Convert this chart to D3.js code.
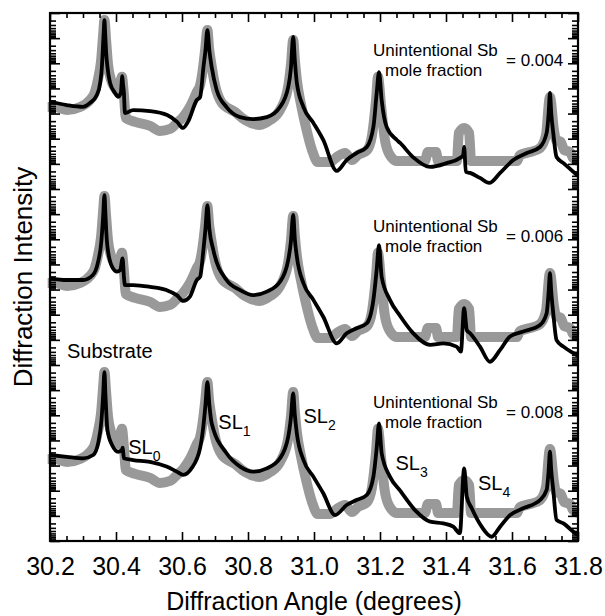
<!DOCTYPE html>
<html><head><meta charset="utf-8">
<script src="https://cdn.jsdelivr.net/npm/d3@7"></script>
<style>body{margin:0;background:#fff} text{font-family:Arial,"Liberation Sans",sans-serif;fill:#000}</style>
</head><body><svg id="c" width="605" height="616"></svg>
<script>
// ---- data (angle in degrees, log10 intensity in decades relative to each panel) ----
const xTickLabels = [30.2, 30.4, 30.6, 30.8, 31.0, 31.2, 31.4, 31.6, 31.8];
const panelOffsets = [14, 7, 0];           // decades, top -> bottom
const sbFractions = ["0.004", "0.006", "0.008"];
const peakLabels = [
  {name:"SL", sub:"0", x:30.437, y:3.46},
  {name:"SL", sub:"1", x:30.710, y:4.45},
  {name:"SL", sub:"2", x:30.968, y:4.68},
  {name:"SL", sub:"3", x:31.247, y:2.81},
  {name:"SL", sub:"4", x:31.497, y:2.03}
];
const measured = [
 [30.193,3.26],[30.215,3.26],[30.252,3.14],[30.291,3.26],[30.321,3.54],[30.336,3.86],[30.345,4.34],
 [30.355,5.13],[30.361,6.13],[30.365,6.72],[30.370,5.93],[30.376,4.93],[30.385,4.34],[30.397,4.02],
 [30.406,3.86],[30.412,4.14],[30.418,4.46],[30.424,3.74],[30.430,2.82],[30.458,2.67],[30.503,2.51],
 [30.533,2.31],[30.564,2.39],[30.585,2.63],[30.603,2.86],[30.624,3.26],[30.645,3.86],[30.655,4.14],
 [30.664,4.85],[30.670,5.53],[30.677,6.32],[30.682,5.61],[30.688,5.05],[30.700,4.14],[30.721,3.42],
 [30.761,3.06],[30.791,2.74],[30.836,2.55],[30.867,2.74],[30.897,3.14],[30.921,4.02],[30.930,4.93],
 [30.937,5.93],[30.942,5.13],[30.948,4.34],[30.961,3.34],[30.976,2.43],[30.994,1.55],[31.012,1.07],
 [31.048,1.07],[31.073,1.31],[31.094,1.43],[31.115,1.15],[31.133,1.35],[31.161,1.55],[31.176,2.15],
 [31.188,3.54],[31.194,4.46],[31.203,3.34],[31.215,1.95],[31.230,1.35],[31.252,1.11],[31.336,1.11],
 [31.345,1.47],[31.370,1.47],[31.376,1.11],[31.433,1.11],[31.439,2.23],[31.455,2.43],[31.470,2.23],
 [31.476,1.11],[31.615,1.11],[31.624,1.35],[31.655,1.47],[31.685,1.63],[31.703,2.15],[31.715,3.66],
 [31.727,2.35],[31.733,1.95],[31.748,1.87],[31.758,1.55],[31.776,1.47],[31.785,1.23],[31.800,1.11]
];
const sim004 = [
 [30.200,3.47],[30.251,3.34],[30.300,3.27],[30.321,3.42],[30.342,3.74],[30.352,4.22],[30.357,4.81],
 [30.360,5.53],[30.363,6.32],[30.365,6.72],[30.367,6.24],[30.370,5.45],[30.374,4.86],[30.382,4.22],
 [30.397,3.82],[30.407,3.67],[30.415,3.85],[30.419,4.49],[30.421,4.20],[30.424,3.82],[30.427,3.02],
 [30.452,3.14],[30.503,3.10],[30.555,2.94],[30.585,2.67],[30.603,2.43],[30.618,2.67],[30.645,3.54],
 [30.655,3.66],[30.665,4.85],[30.671,5.50],[30.677,6.32],[30.683,5.50],[30.690,4.85],[30.705,3.94],
 [30.735,3.26],[30.776,2.86],[30.815,2.78],[30.857,2.86],[30.897,3.26],[30.922,4.06],[30.930,4.80],
 [30.937,6.05],[30.942,5.10],[30.948,4.22],[30.968,3.26],[30.998,2.63],[31.028,1.95],[31.069,0.72],
 [31.099,1.15],[31.129,1.43],[31.160,1.67],[31.180,2.47],[31.190,3.82],[31.197,4.65],[31.205,3.54],
 [31.220,2.47],[31.251,1.95],[31.261,1.83],[31.300,1.27],[31.352,0.88],[31.402,1.03],[31.442,1.23],
 [31.452,1.35],[31.455,1.67],[31.460,0.68],[31.473,0.64],[31.503,0.44],[31.531,0.24],[31.564,0.64],
 [31.604,1.15],[31.645,1.43],[31.685,1.67],[31.705,2.23],[31.711,3.00],[31.715,3.82],[31.719,3.00],
 [31.725,2.23],[31.735,1.27],[31.756,1.03],[31.786,0.68],[31.800,0.52]
];
const sim006 = [
 [30.200,3.45],[30.251,3.38],[30.300,3.38],[30.330,3.58],[30.345,4.06],[30.356,4.97],[30.361,5.90],
 [30.365,6.76],[30.368,6.00],[30.371,5.20],[30.374,4.71],[30.388,3.91],[30.403,3.71],[30.413,3.78],
 [30.420,4.24],[30.424,3.51],[30.427,3.18],[30.452,3.18],[30.503,3.11],[30.553,2.98],[30.584,2.78],
 [30.604,2.55],[30.624,2.72],[30.645,3.38],[30.655,3.51],[30.665,4.60],[30.671,5.40],[30.677,6.36],
 [30.683,5.40],[30.695,4.57],[30.735,3.38],[30.776,2.98],[30.816,2.78],[30.857,2.92],[30.897,3.31],
 [30.922,4.18],[30.930,4.90],[30.937,5.97],[30.942,5.00],[30.948,4.31],[30.968,3.25],[30.998,2.59],
 [31.028,1.92],[31.069,0.86],[31.099,1.26],[31.129,1.46],[31.160,1.66],[31.180,2.59],[31.190,3.80],
 [31.197,4.77],[31.205,3.51],[31.230,2.59],[31.261,1.95],[31.301,1.26],[31.352,0.80],[31.392,0.86],
 [31.432,0.73],[31.445,0.53],[31.455,2.26],[31.463,1.39],[31.473,1.26],[31.503,0.73],[31.533,0.13],
 [31.564,0.60],[31.594,1.13],[31.634,1.33],[31.685,1.59],[31.705,2.06],[31.711,2.90],[31.715,3.65],
 [31.719,2.90],[31.725,2.06],[31.735,0.99],[31.756,0.73],[31.786,0.47],[31.800,0.36]
];
const sim008 = [
 [30.200,3.42],[30.251,3.35],[30.301,3.29],[30.331,3.42],[30.346,3.89],[30.356,4.81],[30.361,5.80],
 [30.365,6.72],[30.368,5.80],[30.371,5.00],[30.374,4.42],[30.388,3.82],[30.407,3.55],[30.418,3.62],
 [30.420,3.71],[30.424,3.29],[30.452,3.22],[30.503,3.15],[30.553,2.96],[30.584,2.76],[30.604,2.63],
 [30.629,2.89],[30.655,3.70],[30.665,4.60],[30.671,5.40],[30.677,6.32],[30.683,5.40],[30.690,4.68],
 [30.735,3.49],[30.776,2.96],[30.816,2.76],[30.857,2.89],[30.897,3.29],[30.922,4.15],[30.930,4.90],
 [30.937,5.87],[30.942,5.00],[30.948,4.28],[30.968,3.22],[30.998,2.56],[31.028,1.90],[31.064,1.03],
 [31.099,1.43],[31.129,1.63],[31.160,1.83],[31.180,2.56],[31.190,3.70],[31.197,4.68],[31.205,3.49],
 [31.230,2.56],[31.261,2.00],[31.306,1.23],[31.352,0.77],[31.392,0.70],[31.422,0.57],[31.442,0.31],
 [31.455,2.89],[31.463,1.76],[31.478,1.30],[31.508,0.57],[31.538,0.17],[31.564,0.57],[31.594,1.03],
 [31.634,1.30],[31.685,1.63],[31.705,2.03],[31.711,2.80],[31.715,3.55],[31.719,2.80],[31.725,2.03],
 [31.735,0.84],[31.756,0.70],[31.786,0.37],[31.800,0.24]
];
const simulations = [sim004, sim006, sim008];

// ---- drawing ----
const svg = d3.select("#c");
const L = 50, R = 578, T = 13, B = 541;
const x = d3.scaleLinear().domain([30.2, 31.8]).range([L, R]);
const y = d3.scaleLinear().domain([0, 21]).range([B, T]);

// curves
simulations.forEach((sim, i) => {
  const off = panelOffsets[i];
  const line = d3.line().curve(d3.curveMonotoneX).x(d => x(d[0])).y(d => y(d[1] + off));
  svg.append("path").datum(measured).attr("d", line)
    .attr("fill", "none").attr("stroke", "#999").attr("stroke-width", 10)
    .attr("stroke-linejoin", "round");
});
simulations.forEach((sim, i) => {
  const off = panelOffsets[i];
  const line = d3.line().curve(d3.curveMonotoneX).x(d => x(d[0])).y(d => y(d[1] + off));
  svg.append("path").datum(sim).attr("d", line)
    .attr("fill", "none").attr("stroke", "#000").attr("stroke-width", 3.8)
    .attr("stroke-linejoin", "round");
});

// axes ticks
const xMinor = d3.range(0, 33).map(i => +(30.2 + i * 0.05).toFixed(2)).filter(v => !xTickLabels.includes(v));
const yMajor = d3.range(0, 22);
const yMinor = [];
yMajor.slice(0, 21).forEach(n => { for (let k = 2; k <= 9; k++) yMinor.push(n + 1 - Math.log10(k)); });

function styleAxis(g) {
  g.select(".domain").remove();
  g.selectAll(".tick line").attr("stroke", "#000").attr("stroke-width", 1.6);
}
svg.append("g").attr("transform", `translate(0,${B})`)
  .call(d3.axisBottom(x).tickValues(xMinor).tickSize(-5).tickSizeOuter(0).tickFormat("")).call(styleAxis);
const bx = svg.append("g").attr("transform", `translate(0,${B})`)
  .call(d3.axisBottom(x).tickValues(xTickLabels).tickSize(-9).tickSizeOuter(0).tickPadding(16).tickFormat(d3.format(".1f")))
  .call(styleAxis);
bx.selectAll("text").attr("font-size", 25).attr("font-family", "Arial, 'Liberation Sans', sans-serif");
svg.append("g").attr("transform", `translate(0,${T})`)
  .call(d3.axisTop(x).tickValues(xMinor).tickSize(-5).tickSizeOuter(0).tickFormat("")).call(styleAxis);
svg.append("g").attr("transform", `translate(0,${T})`)
  .call(d3.axisTop(x).tickValues(xTickLabels).tickSize(-9).tickSizeOuter(0).tickFormat("")).call(styleAxis);
svg.append("g").attr("transform", `translate(${L},0)`)
  .call(d3.axisLeft(y).tickValues(yMinor).tickSize(-6).tickSizeOuter(0).tickFormat("")).call(styleAxis);
svg.append("g").attr("transform", `translate(${L},0)`)
  .call(d3.axisLeft(y).tickValues(yMajor).tickSize(-10).tickSizeOuter(0).tickFormat("")).call(styleAxis);
svg.append("g").attr("transform", `translate(${R},0)`)
  .call(d3.axisRight(y).tickValues(yMinor).tickSize(-6).tickSizeOuter(0).tickFormat("")).call(styleAxis);
svg.append("g").attr("transform", `translate(${R},0)`)
  .call(d3.axisRight(y).tickValues(yMajor).tickSize(-10).tickSizeOuter(0).tickFormat("")).call(styleAxis);

// frame
svg.append("rect").attr("x", L).attr("y", T).attr("width", R - L).attr("height", B - T)
  .attr("fill", "none").attr("stroke", "#000").attr("stroke-width", 2.2);

// axis titles
svg.append("text").attr("x", (L + R) / 2).attr("y", 610).attr("text-anchor", "middle")
  .attr("font-size", 25).text("Diffraction Angle (degrees)");
svg.append("text").attr("transform", `translate(32,${(T + B) / 2}) rotate(-90)`)
  .attr("text-anchor", "middle").attr("font-size", 26).text("Diffraction Intensity");

// annotations per panel
panelOffsets.forEach((off, i) => {
  const base = y(off + 5.3);   // baseline of first line
  svg.append("text").attr("x", 373).attr("y", base).attr("font-size", 17).text("Unintentional Sb");
  svg.append("text").attr("x", 385).attr("y", base + 20).attr("font-size", 17).text("mole fraction");
  svg.append("text").attr("x", 506).attr("y", base + 10).attr("font-size", 17).text("= " + sbFractions[i]);
});

svg.append("text").attr("x", 67).attr("y", y(7.26)).attr("font-size", 20).text("Substrate");
peakLabels.forEach(p => {
  const t = svg.append("text").attr("x", x(p.x)).attr("y", y(p.y)).attr("font-size", 20);
  t.append("tspan").text(p.name);
  t.append("tspan").attr("dy", 7).attr("font-size", 14).text(p.sub);
});
</script></body></html>
